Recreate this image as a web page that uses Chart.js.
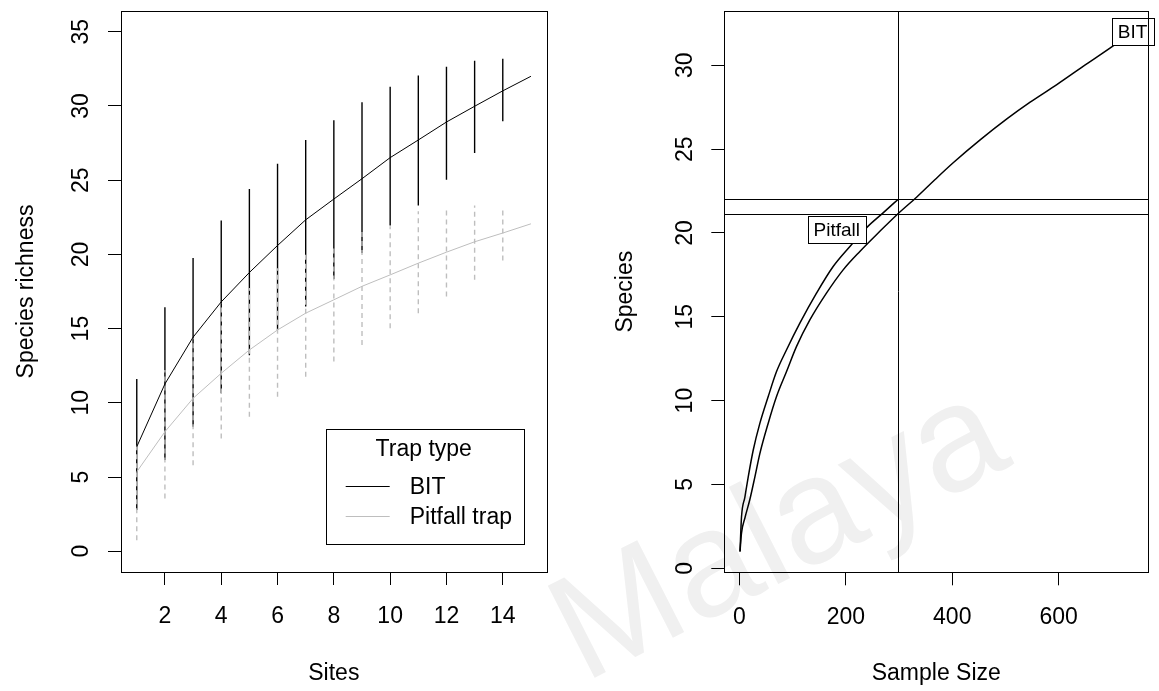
<!DOCTYPE html>
<html>
<head>
<meta charset="utf-8">
<script src="https://cdn.jsdelivr.net/npm/chart.js@4.4.1/dist/chart.umd.min.js"></script>
<style>
  html, body { margin: 0; padding: 0; background: #fff; }
  body { width: 1159px; height: 691px; position: relative; overflow: hidden; }
  canvas { position: absolute; top: 0; }
  #left  { left: 0; }
  #right { left: 580px; }
  .wm {
    position: absolute; left: 526px; top: 570px;
    font: 150px "Liberation Sans", Arial, sans-serif; line-height: 1;
    color: #f0f0f0; white-space: nowrap;
    transform: rotate(-27deg); transform-origin: 0 0;
  }
</style>
</head>
<body>
<div class="wm">Malaya</div>
<canvas id="left" width="580" height="691"></canvas>
<canvas id="right" width="579" height="691"></canvas>
<script>
// ── Data ────────────────────────────────────────────────────────────────────
const trapTypes = ['BIT', 'Pitfall trap'];
const sites     = [1, 2, 3, 4, 5, 6, 7, 8, 9, 10, 11, 12, 13, 14, 15];

const bitMean  = [7.04, 11.27, 14.42, 16.8, 18.78, 20.6, 22.33, 23.73, 25.1, 26.52, 27.71, 28.92, 29.98, 31.02, 32.0];
const bitUpper = [11.6, 16.44, 19.75, 22.29, 24.4, 26.11, 27.71, 29.04, 30.25, 31.29, 32.05, 32.64, 33.04, 33.18];
const bitLower = [2.77, 6.14, 8.39, 10.64, 13.2, 14.91, 16.49, 18.35, 20.09, 21.95, 23.3, 25.03, 26.83, 28.97];

const pitMean  = [5.35, 8.05, 10.3, 11.99, 13.56, 14.91, 16.04, 16.94, 17.85, 18.62, 19.41, 20.15, 20.85, 21.44, 22.06];
const pitUpper = [7.1, 12.21, 14.35, 16.7, 17.73, 19.07, 20.2, 20.6, 21.77, 21.9, 22.9, 23.12, 23.3, 23.23];
const pitLower = [0.74, 3.55, 5.8, 7.6, 9.06, 10.41, 11.76, 12.78, 13.9, 15.03, 16.04, 17.16, 18.29, 19.59];

const leftXTicks = [2, 4, 6, 8, 10, 12, 14];
const leftYTicks = [0, 5, 10, 15, 20, 25, 30, 35];

// rarefaction curves (sample size -> species)
const curveNames = ['BIT', 'Pitfall'];
const bitN = [1, 3.8, 10.2, 19.5, 28.9, 38.3, 53.9, 69.5, 88.3, 107.1, 132.3, 163.5, 194.9, 226.3, 263.9, 298,
              333.4, 364.8, 402.3, 452.4, 502.6, 546.4, 596.6, 646.6, 699.8, 739];
const bitS = [1, 2.1, 3.0, 4.1, 5.44, 6.84, 8.64, 10.23, 11.72, 13.22, 14.81, 16.41, 17.8, 18.9, 20.1, 21.15,
              22.15, 23.1, 24.2, 25.55, 26.8, 27.8, 28.85, 29.95, 31.1, 32.0];
const pitN = [1, 3.8, 10.2, 16.4, 25.8, 38.3, 53.9, 69.5, 88.3, 113.5, 144.8, 176.1, 210.5, 240, 270, 298];
const pitS = [1, 3.05, 4.25, 5.44, 7.04, 8.64, 10.23, 11.72, 13.02, 14.62, 16.41, 18.0, 19.3, 20.35, 21.2, 22.0];

const rareSample   = 298;          // vertical reference line
const rareRichness = [22.0, 21.15]; // horizontal reference lines
const pitfallLabelAt = { x: 183, y: 20.2 };

const rightXTicks = [0, 200, 400, 600];
const rightYTicks = [0, 5, 10, 15, 20, 25, 30];

// ── Helpers ─────────────────────────────────────────────────────────────────
const FONT = '"Liberation Sans", Arial, Helvetica, sans-serif';
const GREY = '#bebebe';

function xy(xs, ys) { return xs.map((x, i) => ({ x, y: ys[i] })); }

// vertical segments separated by gaps (one per error bar)
function barSegments(xs, lo, hi) {
  const pts = [];
  lo.forEach((v, i) => { pts.push({ x: xs[i], y: v }, { x: xs[i], y: hi[i] }, { x: xs[i], y: null }); });
  return pts;
}

function axisOpts(min, max, ticks, fitKey, fitVal) {
  return {
    type: 'linear', min, max,
    afterBuildTicks: s => { s.ticks = ticks.map(v => ({ value: v })); },
    afterFit: s => { s[fitKey] = fitVal; },
    ticks: { display: false },
    grid: { drawOnChartArea: false, drawTicks: true, tickLength: 13, color: '#000', lineWidth: 1 },
    border: { display: false }
  };
}

function drawFrame(ctx, a) {
  ctx.save();
  ctx.strokeStyle = '#000'; ctx.lineWidth = 1;
  ctx.strokeRect(Math.round(a.left) + 0.5, Math.round(a.top) + 0.5,
                 Math.round(a.right - a.left), Math.round(a.bottom - a.top));
  ctx.restore();
}

function drawAxisText(chart, opt) {
  const { ctx, chartArea: a, scales } = chart;
  ctx.save();
  ctx.fillStyle = '#000';
  ctx.font = '23px ' + FONT;
  ctx.textAlign = 'center'; ctx.textBaseline = 'middle';
  scales.x.ticks.forEach(t => ctx.fillText(String(t.value), scales.x.getPixelForValue(t.value), a.bottom + 45));
  scales.y.ticks.forEach(t => {
    ctx.save();
    ctx.translate(a.left - 39, scales.y.getPixelForValue(t.value));
    ctx.rotate(-Math.PI / 2);
    ctx.fillText(String(t.value), 0, 0);
    ctx.restore();
  });
  ctx.fillText(opt.xTitle, (a.left + a.right) / 2, 674);
  ctx.save();
  ctx.translate(opt.yTitleX, (a.top + a.bottom) / 2);
  ctx.rotate(-Math.PI / 2);
  ctx.fillText(opt.yTitle, 0, 0);
  ctx.restore();
  ctx.restore();
}

// ── Left panel: species richness by sites ───────────────────────────────────
const leftDecor = {
  id: 'leftDecor',
  afterDraw(chart) {
    const { ctx, chartArea: a } = chart;
    drawFrame(ctx, a);
    drawAxisText(chart, { xTitle: 'Sites', yTitle: 'Species richness', yTitleX: 27 });

    // legend
    const lg = { x: a.right - 221, y: a.bottom - 143, w: 198, h: 115 };
    ctx.save();
    ctx.fillStyle = '#fff';
    ctx.fillRect(lg.x, lg.y, lg.w, lg.h);
    ctx.strokeStyle = '#000'; ctx.lineWidth = 1;
    ctx.strokeRect(Math.round(lg.x) + 0.5, Math.round(lg.y) + 0.5, lg.w, lg.h);
    ctx.fillStyle = '#000';
    ctx.font = '23px ' + FONT;
    ctx.textAlign = 'center'; ctx.textBaseline = 'middle';
    ctx.fillText('Trap type', lg.x + lg.w / 2 - 1, lg.y + 21);
    ctx.textAlign = 'left';
    const colors = ['#000', GREY];
    trapTypes.forEach((name, i) => {
      const yy = Math.round(lg.y + 57 + i * 30) + 0.5;
      ctx.strokeStyle = colors[i];
      ctx.beginPath(); ctx.moveTo(lg.x + 20, yy); ctx.lineTo(lg.x + 64, yy); ctx.stroke();
      ctx.fillStyle = '#000';
      ctx.fillText(name, lg.x + 84, yy + 1);
    });
    ctx.restore();
  }
};

new Chart(document.getElementById('left'), {
  type: 'line',
  data: {
    datasets: [
      { label: 'BIT range', data: barSegments(sites, bitLower, bitUpper),
        borderColor: '#000', borderWidth: 1.4, order: 4 },
      { label: 'Pitfall range', data: barSegments(sites, pitLower, pitUpper),
        borderColor: GREY, borderWidth: 1.4, borderDash: [5, 4], order: 3 },
      { label: trapTypes[1], data: xy(sites, pitMean), borderColor: GREY, borderWidth: 1, order: 2 },
      { label: trapTypes[0], data: xy(sites, bitMean), borderColor: '#000', borderWidth: 1, order: 1 }
    ]
  },
  options: {
    responsive: false, animation: false, events: [],
    layout: { padding: { left: 0, right: 33.3, top: 11, bottom: 0 } },
    elements: { point: { radius: 0 }, line: { tension: 0 } },
    plugins: { legend: { display: false }, tooltip: { enabled: false } },
    scales: {
      x: axisOpts(0.44, 15.56, leftXTicks, 'height', 119),
      y: axisOpts(-1.4, 36.4, leftYTicks, 'width', 121)
    }
  },
  plugins: [leftDecor]
});

// ── Right panel: rarefaction curves ─────────────────────────────────────────
function labelBox(ctx, text, cx, cy) {
  ctx.save();
  ctx.font = '19px ' + FONT;
  const w = Math.round(ctx.measureText(text).width + 12), h = 27;
  const x0 = Math.round(cx - w / 2) + 0.5, y0 = Math.round(cy - h / 2) + 0.5;
  ctx.fillStyle = '#fff'; ctx.fillRect(x0, y0, w, h);
  ctx.strokeStyle = '#000'; ctx.lineWidth = 1; ctx.strokeRect(x0, y0, w, h);
  ctx.fillStyle = '#000'; ctx.textAlign = 'center'; ctx.textBaseline = 'middle';
  ctx.fillText(text, cx, cy + 1);
  ctx.restore();
}

const rightDecor = {
  id: 'rightDecor',
  beforeDatasetsDraw(chart) {
    const { ctx, chartArea: a, scales: { x, y } } = chart;
    ctx.save();
    ctx.strokeStyle = '#000'; ctx.lineWidth = 1;
    ctx.beginPath();
    const vx = Math.round(x.getPixelForValue(rareSample)) + 0.5;
    ctx.moveTo(vx, a.top); ctx.lineTo(vx, a.bottom);
    rareRichness.forEach(r => {
      const hy = Math.round(y.getPixelForValue(r)) + 0.5;
      ctx.moveTo(a.left, hy); ctx.lineTo(a.right, hy);
    });
    ctx.stroke();
    ctx.restore();
  },
  afterDraw(chart) {
    const { ctx, chartArea: a, scales: { x, y } } = chart;
    labelBox(ctx, curveNames[1], x.getPixelForValue(pitfallLabelAt.x), y.getPixelForValue(pitfallLabelAt.y));
    labelBox(ctx, curveNames[0], x.getPixelForValue(bitN[bitN.length - 1]), y.getPixelForValue(bitS[bitS.length - 1]));
    drawFrame(ctx, a);
    drawAxisText(chart, { xTitle: 'Sample Size', yTitle: 'Species', yTitleX: 46 });
  }
};

new Chart(document.getElementById('right'), {
  type: 'line',
  data: {
    datasets: [
      { label: curveNames[0], data: xy(bitN, bitS), borderColor: '#000', borderWidth: 1.5 },
      { label: curveNames[1], data: xy(pitN, pitS), borderColor: '#000', borderWidth: 1.5 }
    ]
  },
  options: {
    responsive: false, animation: false, events: [],
    layout: { padding: { left: 0, right: 10.7, top: 11, bottom: 0 } },
    elements: { point: { radius: 0 }, line: { cubicInterpolationMode: 'monotone' } },
    plugins: { legend: { display: false }, tooltip: { enabled: false } },
    scales: {
      x: axisOpts(-28.52, 768.52, rightXTicks, 'height', 118.7),
      y: axisOpts(-0.24, 33.24, rightYTicks, 'width', 144.3)
    }
  },
  plugins: [rightDecor]
});
</script>
</body>
</html>
